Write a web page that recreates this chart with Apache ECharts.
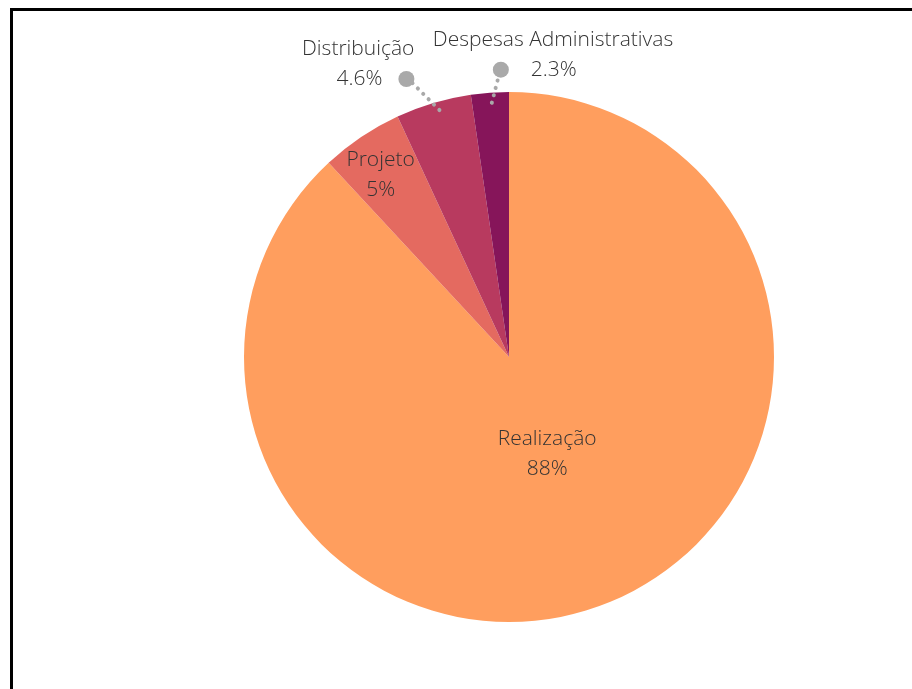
<!DOCTYPE html>
<html><head><meta charset="utf-8">
<script src="https://cdn.jsdelivr.net/npm/echarts@6/dist/echarts.min.js"></script>
<style>html,body{margin:0;padding:0;background:#fff}#c{width:912px;height:689px}</style>
</head><body><div id="c"></div>
<script>
const categories = ['Realização', 'Projeto', 'Distribuição', 'Despesas Administrativas'];
const values = [88, 5, 4.6, 2.3];
const valueLabels = ['88%', '5%', '4.6%', '2.3%'];
const colors = ['#FF9E5E', '#E46A60', '#B83A5F', '#86155A'];

const CX = 509, CY = 357, R = 265;
const chart = echarts.init(document.getElementById('c'), null, {renderer: 'canvas'});
const font = "'Open Sans', sans-serif";
const txt = {fontFamily: font, fontSize: 21, fontWeight: 300, color: '#333'};

const rich = {
  n: Object.assign({}, txt, {lineHeight: 30}),
  v: Object.assign({}, txt, {lineHeight: 30}),
  g: {width: 16, height: 16},
  g2: {width: 22, height: 16},
  p: {width: 60, height: 16},
  d: {width: 16, height: 16, borderRadius: 8, backgroundColor: '#A9A9A9'}
};

// base series: slices + inside labels
const baseData = categories.map((n, i) => ({
  name: n, value: values[i], itemStyle: {color: colors[i]},
  label: (i < 2)
    ? {show: true, position: 'inside', formatter: '{n|' + n + '}\n{v|' + valueLabels[i] + '}', align: 'center'}
    : {show: false},
  labelLine: {show: false}
}));

// overlay series (transparent): outside labels with leader lines drawn above slices
const overData = categories.map((n, i) => {
  const d = {name: n, value: values[i], itemStyle: {color: 'rgba(0,0,0,0)'}};
  if (i === 2) {
    d.label = {show: true, position: 'outside', formatter: '{n|' + n + '}\n{v|' + valueLabels[i] + '}{g|}{d|}', align: 'right'};
    d.labelLine = {show: true};
  } else if (i === 3) {
    d.label = {show: true, position: 'outside', formatter: '{n|' + n + '}\n{p|}{d|}{g2|}{v|' + valueLabels[i] + '}', align: 'left'};
    d.labelLine = {show: true};
  } else {
    d.label = {show: false};
    d.labelLine = {show: false};
  }
  return d;
});

chart.setOption({
  animation: false,
  graphic: [{
    type: 'rect', left: 9, top: 7, z: 100,
    shape: {width: 960, height: 760},
    style: {fill: 'none', stroke: '#000', lineWidth: 3}
  }],
  series: [{
    type: 'pie', z: 2,
    center: [CX, CY], radius: [0, R], startAngle: 90, clockwise: true,
    avoidLabelOverlap: false, silent: true,
    data: baseData,
    label: {rich: rich, lineHeight: 30},
    labelLayout: function (p) {
      const i = p.dataIndex;
      const r = p.labelRect;
      const lx = r.x + r.width / 2, ly = r.y + r.height / 2;
      const k = i === 0 ? 0.77 : 1.7;
      return {x: CX + (lx - CX) * k, y: CY + (ly - CY) * k + (i === 1 ? 9 : 0), align: 'center', verticalAlign: 'middle'};
    }
  }, {
    type: 'pie', z: 5,
    center: [CX, CY], radius: [0, R], startAngle: 90, clockwise: true,
    avoidLabelOverlap: false, silent: true,
    data: overData,
    label: {rich: rich, lineHeight: 30},
    labelLine: {
      show: true, length: 20, length2: 0, smooth: false,
      lineStyle: {color: '#A9A9A9', width: 4, type: [0.1, 7.5], cap: 'round'}
    },
    labelLayout: function (p) {
      const i = p.dataIndex;
      const a = p.labelLinePoints;
      if (!a) return {};
      const s = a[0];
      if (i === 2) {
        const st = [s[0] + 6, s[1] + 7];
        const e = [st[0] - 34, st[1] - 34];
        return {x: e[0] + 9, y: e[1] - 12, align: 'right', verticalAlign: 'middle',
                labelLinePoints: [st, e, e]};
      }
      const st = [s[0] + 2, s[1] + 10];
      const e = [st[0] + 9, st[1] - 35];
      return {x: e[0] - 68, y: e[1] - 13, align: 'left', verticalAlign: 'middle',
              labelLinePoints: [st, e, e]};
    }
  }]
});
</script></body></html>
